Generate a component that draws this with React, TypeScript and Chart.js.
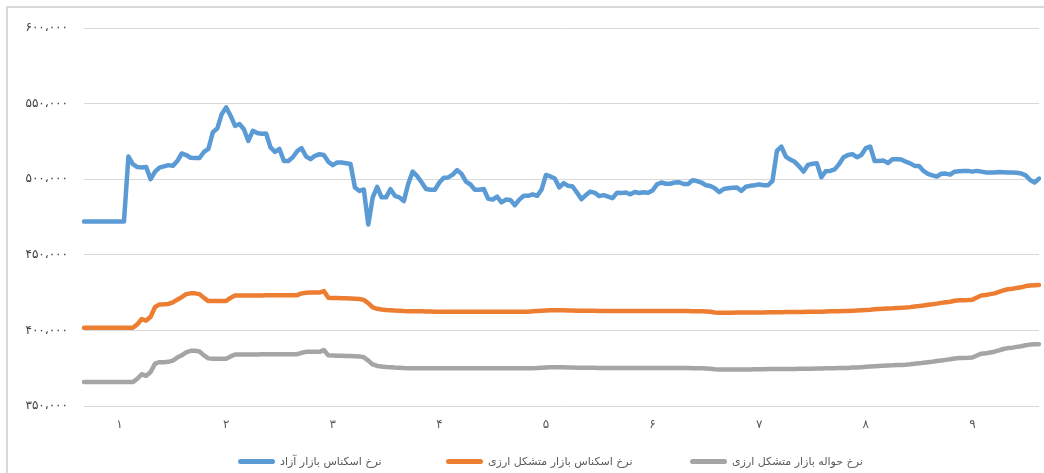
import React, { useEffect, useRef } from 'react';
import { Chart, registerables } from 'chart.js';

Chart.register(...registerables);

// Series names (legend)
const seriesNames = [
  'نرخ اسکناس بازار آزاد',
  'نرخ اسکناس بازار متشکل ارزی',
  'نرخ حواله بازار متشکل ارزی',
];
const seriesColors = ['#5B9BD5', '#ED7D31', '#A5A5A5'];

// x-axis: month labels and the observation index at which each appears
const monthLabels = ['۱', '۲', '۳', '۴', '۵', '۶', '۷', '۸', '۹'];
const monthTickIndex = [8, 32, 56, 80, 104, 128, 152, 176, 200];

// y-axis tick labels (350,000 .. 600,000)
const yTickValues = [350000, 400000, 450000, 500000, 550000, 600000];
const yTickLabels = ['۳۵۰،۰۰۰', '۴۰۰،۰۰۰', '۴۵۰،۰۰۰', '۵۰۰،۰۰۰', '۵۵۰،۰۰۰', '۶۰۰،۰۰۰'];

// values in thousands of rials
const freeMarketCash = [
  472, 472, 472, 472, 472, 472, 472, 472, 472, 472,
  515, 510, 508, 507.7, 508, 500, 505, 507.7, 508.5, 509.3,
  508.8, 512, 517, 516, 514.2, 514, 514, 518, 520, 531,
  533.5, 543, 547.5, 542, 535.2, 536.5, 533, 525.3, 532, 530.5,
  530, 530.2, 521, 518, 520, 512.1, 512.1, 514.5, 518.5, 520.5,
  515, 513.3, 515.5, 516.5, 516, 511.5, 509.3, 511, 511, 510.5,
  510, 494.5, 492.2, 493.2, 470, 488, 495, 488, 488, 493.4,
  489, 488, 485.5, 497, 505, 502, 498, 493.5, 493, 493,
  497.8, 501, 501.2, 503, 506, 503.5, 498.4, 496.5, 493, 493,
  493.5, 487, 486.5, 488.5, 484.6, 486.5, 486.3, 482.8, 486.5, 489,
  489, 490, 489, 493, 502.8, 501.8, 500.5, 494.5, 497.4, 495.6,
  495.2, 491, 486.8, 489.5, 491.8, 491, 488.8, 489.5, 488.5, 487.5,
  491, 490.8, 491.2, 490, 491.5, 490.9, 491.3, 491, 492.5, 496.6,
  497.8, 497, 497, 497.8, 498, 496.8, 496.8, 499.3, 498.8, 497.8,
  496, 495.5, 494, 491.5, 493.5, 494, 494.3, 494.5, 492.3, 495,
  495.6, 496, 496.6, 496, 496, 498.9, 518.7, 521.6, 515, 513,
  511.5, 508.5, 505, 509.5, 510.2, 510.5, 501.3, 505.3, 505.5, 506.5,
  510, 514.5, 516, 516.6, 514.5, 516, 520.5, 521.6, 512, 512,
  512.3, 510.7, 513.2, 513.2, 513, 511.6, 510.5, 508.8, 508.8, 505.5,
  503.5, 502.5, 501.8, 503.6, 503.7, 503, 505, 505.3, 505.4, 505.5,
  505, 505.5, 505, 504.5, 504.4, 504.4, 504.8, 504.6, 504.4, 504.4,
  504.2, 503.8, 502.5, 499.5, 497.8, 500.4,
];

const exchangeCash = [
  401.8, 401.8, 401.8, 401.8, 401.8, 401.8, 401.8, 401.8, 401.8, 401.8,
  401.8, 401.8, 404, 407.5, 406.5, 409, 415.5, 417.2, 417.3, 417.5,
  418.5, 420.3, 422, 424, 424.5, 424.5, 424, 421.5, 419.4, 419.4,
  419.4, 419.4, 419.5, 421.5, 423.1, 423.1, 423.1, 423.1, 423.1, 423.1,
  423.1, 423.2, 423.2, 423.2, 423.2, 423.2, 423.3, 423.3, 423.3, 424.5,
  424.9, 425, 425, 425, 426, 421.6, 421.5, 421.4, 421.3, 421.2,
  421.1, 421, 420.8, 420.2, 418, 415.2, 414.3, 413.8, 413.5, 413.3,
  413.1, 413, 412.8, 412.7, 412.7, 412.6, 412.6, 412.5, 412.5, 412.4,
  412.4, 412.4, 412.4, 412.4, 412.4, 412.4, 412.4, 412.4, 412.4, 412.4,
  412.4, 412.4, 412.4, 412.4, 412.4, 412.4, 412.4, 412.4, 412.4, 412.4,
  412.4, 412.6, 412.8, 413, 413.2, 413.3, 413.4, 413.4, 413.3, 413.2,
  413.1, 413, 413, 413, 413, 413, 412.9, 412.9, 412.9, 412.9,
  412.9, 412.9, 412.9, 412.9, 412.9, 412.8, 412.8, 412.8, 412.8, 412.8,
  412.8, 412.8, 412.8, 412.8, 412.8, 412.8, 412.8, 412.7, 412.6, 412.6,
  412.5, 412.3, 411.9, 411.7, 411.7, 411.7, 411.7, 411.8, 411.8, 411.8,
  411.8, 411.9, 411.9, 411.9, 412, 412, 412, 412, 412.1, 412.1,
  412.1, 412.2, 412.2, 412.3, 412.3, 412.4, 412.4, 412.5, 412.6, 412.6,
  412.7, 412.8, 412.8, 413, 413.1, 413.3, 413.5, 413.7, 414, 414.2,
  414.4, 414.5, 414.6, 414.8, 414.9, 415.1, 415.4, 415.8, 416.1, 416.5,
  417, 417.3, 417.7, 418.2, 418.6, 419, 419.6, 420, 420, 420.1,
  420.3, 421.8, 423.1, 423.4, 424, 424.5, 425.5, 426.5, 427.2, 427.5,
  428.1, 428.5, 429.3, 429.7, 429.9, 430,
];

const exchangeTransfer = [
  365.8, 365.8, 365.8, 365.8, 365.8, 365.8, 365.8, 365.8, 365.8, 365.8,
  365.8, 365.8, 368, 371, 370, 372.5, 378, 379, 379, 379.2,
  380, 382, 383.5, 385.5, 386.5, 386.5, 386, 383.5, 381.5, 381.3,
  381.3, 381.3, 381.3, 382.8, 384.1, 384.1, 384.1, 384.1, 384.1, 384.1,
  384.2, 384.2, 384.2, 384.2, 384.2, 384.2, 384.3, 384.3, 384.3, 385.2,
  385.8, 385.8, 385.8, 385.8, 387, 383.5, 383.4, 383.3, 383.2, 383.1,
  383, 382.9, 382.8, 382.3, 380, 377.5, 376.5, 376.1, 375.8, 375.6,
  375.4, 375.3, 375.1, 375, 375, 375, 374.9, 374.9, 374.9, 374.9,
  374.9, 374.9, 374.9, 374.9, 374.9, 374.9, 374.9, 374.9, 374.9, 374.9,
  374.9, 374.9, 374.9, 374.9, 374.9, 374.9, 374.9, 374.9, 374.9, 374.9,
  374.9, 375, 375.1, 375.3, 375.5, 375.6, 375.7, 375.7, 375.6, 375.5,
  375.4, 375.3, 375.3, 375.3, 375.3, 375.3, 375.2, 375.2, 375.2, 375.2,
  375.2, 375.2, 375.2, 375.2, 375.2, 375.1, 375.1, 375.1, 375.1, 375.1,
  375.1, 375.1, 375.1, 375.1, 375.1, 375.1, 375.1, 375, 375, 374.9,
  374.8, 374.6, 374.3, 374.1, 374.1, 374.1, 374.1, 374.2, 374.2, 374.2,
  374.2, 374.3, 374.3, 374.3, 374.4, 374.4, 374.4, 374.4, 374.5, 374.5,
  374.5, 374.6, 374.6, 374.7, 374.7, 374.8, 374.8, 374.9, 374.9, 375,
  375.1, 375.2, 375.2, 375.4, 375.5, 375.7, 375.9, 376.1, 376.3, 376.5,
  376.7, 376.8, 376.9, 377.1, 377.1, 377.3, 377.6, 378, 378.2, 378.6,
  379, 379.3, 379.7, 380.1, 380.5, 380.9, 381.4, 381.8, 381.8, 381.9,
  382.1, 383.4, 384.6, 384.9, 385.4, 385.9, 386.8, 387.7, 388.3, 388.6,
  389.1, 389.5, 390.2, 390.6, 390.8, 390.9,
];

const FONT = "'DejaVu Sans', sans-serif";
const TEXT_COLOR = '#595959';

export default function App() {
  const canvasRef = useRef<HTMLCanvasElement | null>(null);

  useEffect(() => {
    const canvas = canvasRef.current;
    if (!canvas) return;
    const labels = freeMarketCash.map((_, i) => {
      const m = monthTickIndex.indexOf(i);
      return m >= 0 ? monthLabels[m] : '';
    });
    const series = [freeMarketCash, exchangeCash, exchangeTransfer];
    const chart = new Chart(canvas, {
      type: 'line',
      data: {
        labels,
        datasets: series.map((arr, k) => ({
          label: seriesNames[k],
          data: arr.map((v) => v * 1000),
          borderColor: seriesColors[k],
          backgroundColor: seriesColors[k],
          borderWidth: 4.5,
          pointRadius: 0,
          tension: 0,
          borderJoinStyle: 'round' as const,
          borderCapStyle: 'round' as const,
          fill: false,
        })),
      },
      options: {
        responsive: false,
        animation: false,
        layout: { padding: { left: 0, right: 5, top: 28, bottom: 0 } },
        plugins: {
          legend: { display: false },
          tooltip: { enabled: false },
          title: { display: false },
        },
        scales: {
          x: {
            type: 'category',
            grid: { display: false, drawTicks: true, tickLength: 12 },
            border: { display: false },
            ticks: {
              autoSkip: false,
              maxRotation: 0,
              minRotation: 0,
              padding: 0,
              color: TEXT_COLOR,
              font: { family: FONT, size: 12 },
            },
            afterFit: (s: any) => {
              s.height = 67;
            },
          },
          y: {
            min: 350000,
            max: 600000,
            afterBuildTicks: (s: any) => {
              s.ticks = yTickValues.map((v) => ({ value: v }));
            },
            ticks: {
              padding: 16,
              color: '#404040',
              font: { family: FONT, size: 12 },
              callback: (v: any) => {
                const i = yTickValues.indexOf(Number(v));
                return i >= 0 ? yTickLabels[i] : '';
              },
            },
            grid: { color: '#d9d9d9', lineWidth: 1, drawTicks: false },
            border: { display: false },
            afterFit: (s: any) => {
              s.width = 84;
            },
          },
        },
      },
    });
    return () => chart.destroy();
  }, []);

  const legendLeft = [238, 446, 690];

  return (
    <div
      style={{
        position: 'fixed',
        left: 0,
        top: 0,
        width: 1044,
        height: 473,
        background: '#ffffff',
        overflow: 'hidden',
        fontFamily: FONT,
      }}
    >
      <div
        style={{
          position: 'absolute',
          left: 6,
          top: 6,
          width: 1100,
          height: 600,
          borderTop: '2px solid #d9d9d9',
          borderLeft: '2px solid #d9d9d9',
        }}
      />
      <canvas
        ref={canvasRef}
        width={1044}
        height={473}
        style={{ position: 'absolute', left: 0, top: 0, display: 'block' }}
      />
      {seriesNames.map((name, k) => (
        <div
          key={name}
          style={{
            position: 'absolute',
            left: legendLeft[k],
            top: 452,
            height: 18,
            display: 'flex',
            alignItems: 'center',
            whiteSpace: 'nowrap',
          }}
        >
          <span
            style={{
              display: 'inline-block',
              width: 37,
              height: 5,
              borderRadius: 3,
              background: seriesColors[k],
              marginRight: 5,
            }}
          />
          <span style={{ fontSize: 11, color: TEXT_COLOR, direction: 'rtl' }}>{name}</span>
        </div>
      ))}
    </div>
  );
}
